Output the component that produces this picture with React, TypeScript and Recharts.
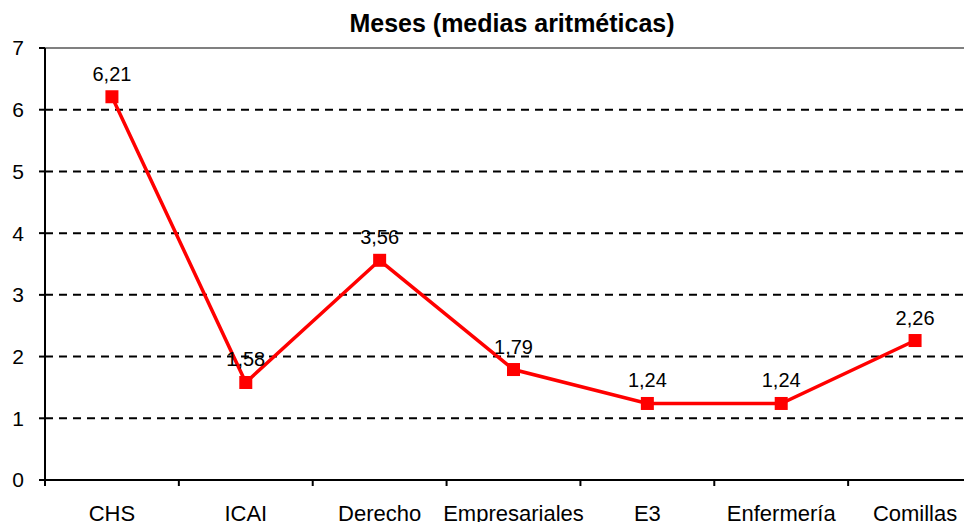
import { LineChart, Line, XAxis, YAxis, CartesianGrid, ReferenceLine, LabelList } from 'recharts'

const CATEGORIES = ['CHS', 'ICAI', 'Derecho', 'Empresariales', 'E3', 'Enfermería', 'Comillas']
const MESES = [6.21, 1.58, 3.56, 1.79, 1.24, 1.24, 2.26]
const Y_TICKS = [0, 1, 2, 3, 4, 5, 6, 7]

const DATA = CATEGORIES.map((name, i) => ({ name, meses: MESES[i] }))

const W = 990
const H = 530
const Y_W = 45
const RIGHT = 8
const BAND = (W - Y_W - RIGHT) / CATEGORIES.length
const AXIS_Y = 480
const FONT = '"Liberation Sans", Arial, sans-serif'

function XTick({ x, payload }: any) {
  return (
    <g>
      <line x1={x - BAND / 2} x2={x - BAND / 2} y1={AXIS_Y} y2={AXIS_Y + 6} stroke="#000" strokeWidth={2} />
      <text x={x} y={AXIS_Y + 41} textAnchor="middle" fontSize={22} fontFamily={FONT} fill="#000">
        {payload.value}
      </text>
    </g>
  )
}

function SquareDot({ cx, cy }: any) {
  if (cx == null || cy == null) return null
  return <rect x={cx - 6.5} y={cy - 6.5} width={13} height={13} fill="#ff0000" />
}

export default function App() {
  return (
    <div style={{ margin: -8, width: 972, height: 530, overflow: 'hidden', position: 'relative', background: '#fff', fontFamily: FONT }}>
      <div style={{ position: 'absolute', top: 11, left: 512, transform: 'translateX(-50%)', whiteSpace: 'nowrap',
        fontSize: 25, lineHeight: '25px', fontWeight: 'bold', color: '#000' }}>
        Meses (medias aritméticas)
      </div>
      <LineChart width={W} height={H} data={DATA} margin={{ top: 48, right: RIGHT, left: 0, bottom: 0 }}>
        <CartesianGrid vertical={false} stroke="#000" strokeWidth={2} strokeDasharray="8 6" />
        <ReferenceLine y={7} stroke="#808080" strokeWidth={2} />
        <XAxis dataKey="name" height={50} axisLine={{ stroke: '#000', strokeWidth: 2 }} tickLine={false}
          padding={{ left: BAND / 2, right: BAND / 2 }}
          tickSize={0} tickMargin={0} tick={(p: any) => <XTick {...p} />} interval={0} />
        <YAxis width={Y_W} domain={[0, 7]} ticks={Y_TICKS} interval={0} axisLine={{ stroke: '#000', strokeWidth: 2 }}
          tickLine={{ stroke: '#000', strokeWidth: 2 }} tickSize={6} tickMargin={15}
          tick={{ fill: '#000', fontSize: 21, fontFamily: FONT }} />
        <Line dataKey="meses" stroke="#ff0000" strokeWidth={3.5} dot={<SquareDot />} activeDot={false}
          isAnimationActive={false}>
          <LabelList dataKey="meses" position="top" offset={16} fill="#000" fontSize={20} fontFamily={FONT}
            formatter={(v: any) => String(v).replace('.', ',')} />
        </Line>
      </LineChart>
    </div>
  )
}
